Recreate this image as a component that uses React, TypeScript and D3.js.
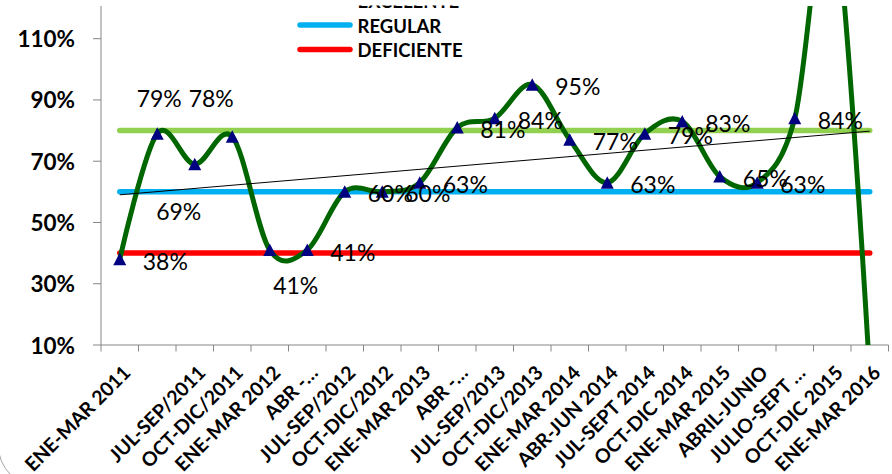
import React from "react";
import * as d3 from "d3";

// ---- data ----
const categories: string[] = [
  "ENE-MAR 2011", "", "JUL-SEP/2011", "OCT-DIC/2011", "ENE-MAR 2012", "ABR -…",
  "JUL-SEP/2012", "OCT-DIC/2012", "ENE-MAR 2013", "ABR -…", "JUL-SEP/2013",
  "OCT-DIC/2013", "ENE-MAR 2014", "ABR-JUN 2014", "JUL-SEPT 2014", "OCT-DIC 2014",
  "ENE-MAR 2015", "ABRIL-JUNIO", "JULIO-SEPT …", "OCT-DIC 2015", "ENE-MAR 2016",
];
const resultado: number[] = [
  0.38, 0.79, 0.69, 0.78, 0.41, 0.41, 0.60, 0.60, 0.63, 0.81, 0.84,
  0.95, 0.77, 0.63, 0.79, 0.83, 0.65, 0.63, 0.84, 1.55, 0.0,
];
const excelente = 0.8;
const regular = 0.6;
const deficiente = 0.4;
const yTicks: number[] = [0.1, 0.3, 0.5, 0.7, 0.9, 1.1];
const legendItems = [
  { name: "EXCELENTE", color: "#92D050" },
  { name: "REGULAR", color: "#00B0F0" },
  { name: "DEFICIENTE", color: "#FF0000" },
];

// ---- layout ----
const W = 892, H = 474;
const left = 101, right = 888.5, top = 6, bottom = 345;
const FONT = "Lato, 'Open Sans', sans-serif";

// manual label placements (dx, dy from point, anchor middle) for a few points
const labelPlacement: Record<number, [number, number]> = {
  1: [2, -36],
  2: [-16, 47],
  3: [-21, -39],
  4: [26, 35],
};

export default function App() {
  const idx = categories.map((_, i) => i);
  const x = d3.scaleBand<number>().domain(idx).range([left, right]).padding(0);
  const cx = (i: number) => (x(i) as number) + x.bandwidth() / 2;
  const y = d3.scaleLinear().domain([0.1, 1.2]).range([bottom, 8.05]);

  const line = d3
    .line<number>()
    .x((_, i) => cx(i))
    .y((d) => y(d))
    .curve(d3.curveCardinal.tension(0));

  // linear trend (least squares)
  const n = resultado.length;
  const mx = d3.mean(idx) as number;
  const my = d3.mean(resultado) as number;
  const sxy = d3.sum(idx, (i) => (i - mx) * (resultado[i] - my));
  const sxx = d3.sum(idx, (i) => (i - mx) * (i - mx));
  const slope = sxy / sxx;
  const icpt = my - slope * mx;
  const pct = d3.format(".0%");

  const flat = (v: number) =>
    d3.line<number>().x((i) => cx(i)).y(() => y(v))([0, n - 1]) as string;

  const inRange = (v: number) => v >= 0.1 && v <= 1.2;

  return (
    <svg
      width={W}
      height={H}
      style={{ position: "absolute", left: 0, top: 0, background: "#fff" }}
    >
      <defs>
        <clipPath id="plot">
          <rect x={left} y={top} width={right - left} height={bottom - top} />
        </clipPath>
        <clipPath id="legclip">
          <rect x={0} y={5.5} width={W} height={H} />
        </clipPath>
      </defs>
      <rect x={0} y={0} width={W} height={H} fill="#fff" />

      {/* rounded chart border corner */}
      <path
        d="M -1.8 300 L -1.8 445 A 41.7 41.7 0 0 0 39.9 486.7 L 900 486.7"
        fill="none"
        stroke="#a6a6a6"
        strokeWidth={1}
      />

      {/* axes */}
      <g stroke="#868686" strokeWidth={1} fill="none">
        <line x1={left} x2={left} y1={top} y2={bottom} />
        <line x1={left} x2={right} y1={bottom} y2={bottom} />
        {yTicks.map((t) => (
          <line key={t} x1={left - 8} x2={left} y1={y(t)} y2={y(t)} />
        ))}
        {d3.range(n + 1).map((i) => {
          const xx = left + i * x.bandwidth();
          return <line key={i} x1={xx} x2={xx} y1={bottom} y2={bottom + 6.5} />;
        })}
      </g>

      {/* y tick labels */}
      {yTicks.map((t) => (
        <text
          key={t}
          x={75}
          y={y(t)}
          textAnchor="end"
          dominantBaseline="central"
          fontFamily={FONT}
          fontWeight="bold"
          fontSize={22.5}
          fill="#000"
        >
          {pct(t)}
        </text>
      ))}

      {/* x tick labels */}
      {categories.map((c, i) => (
        <text
          key={i}
          transform={`translate(${cx(i) + 12},${bottom + 29}) rotate(-45)`}
          textAnchor="end"
          fontFamily={FONT}
          fontWeight="bold"
          fontSize={19.5}
          fill="#000"
        >
          {c}
        </text>
      ))}

      <g clipPath="url(#plot)">
        {/* reference lines */}
        <path d={flat(excelente)} stroke="#92D050" strokeWidth={5.5} strokeLinecap="round" fill="none" />
        <path d={flat(regular)} stroke="#00B0F0" strokeWidth={5.5} strokeLinecap="round" fill="none" />
        <path d={flat(deficiente)} stroke="#FF0000" strokeWidth={5.5} strokeLinecap="round" fill="none" />

        {/* data curve */}
        <path d={line(resultado) as string} stroke="#006600" strokeWidth={5} fill="none" strokeLinejoin="round" />

        {/* trend line */}
        <line
          x1={cx(0)}
          x2={cx(n - 1)}
          y1={y(icpt)}
          y2={y(icpt + slope * (n - 1))}
          stroke="#000"
          strokeWidth={1}
        />

        {/* markers */}
        {resultado.map((v, i) =>
          inRange(v) ? (
            <path
              key={i}
              d={`M${cx(i)},${y(v) - 6.5} L${cx(i) + 6.5},${y(v) + 6} L${cx(i) - 6.5},${y(v) + 6} Z`}
              fill="#000080"
            />
          ) : null
        )}
      </g>

      {/* data labels */}
      {resultado.map((v, i) => {
        if (!inRange(v)) return null;
        const p = labelPlacement[i];
        const px = cx(i), py = y(v);
        return (
          <text
            key={i}
            x={p ? px + p[0] : px + 23}
            y={p ? py + p[1] : py + 1.5}
            textAnchor={p ? "middle" : "start"}
            dominantBaseline="central"
            fontFamily={FONT}
            fontSize={23}
            fill="#000"
          >
            {pct(v)}
          </text>
        );
      })}

      {/* legend */}
      <g clipPath="url(#legclip)">
        {legendItems.map((it, k) => {
          const ly = 0.5 + k * 24.5;
          return (
            <g key={it.name}>
              <line x1={300} x2={350} y1={ly} y2={ly} stroke={it.color} strokeWidth={5.5} strokeLinecap="round" />
              <text
                x={357.5}
                y={ly + 0.5}
                dominantBaseline="central"
                fontFamily={FONT}
                fontWeight="bold"
                fontSize={18.5}
                fill="#000"
              >
                {it.name}
              </text>
            </g>
          );
        })}
      </g>
    </svg>
  );
}
